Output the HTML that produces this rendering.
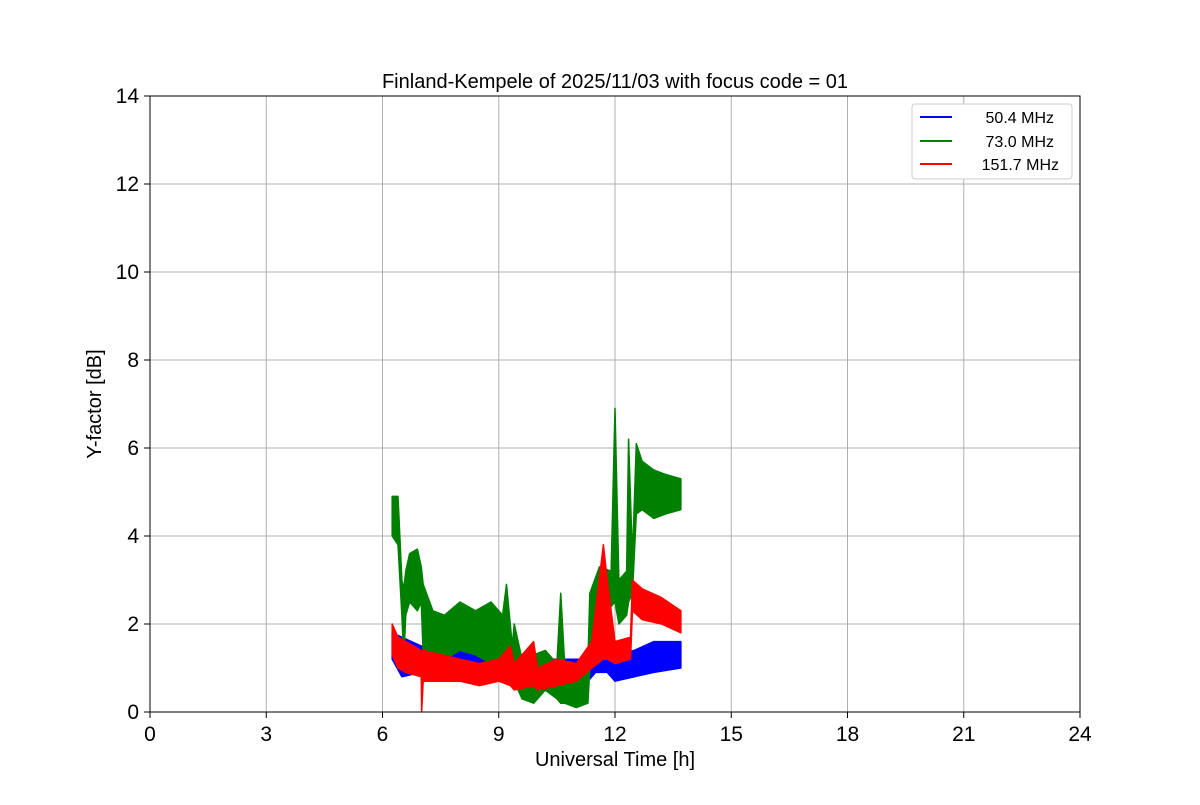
<!DOCTYPE html>
<html><head><meta charset="utf-8"><style>
body{margin:0;background:#fff;font-family:"Liberation Sans","DejaVu Sans",sans-serif}
</style></head><body>
<svg id="chart" width="1200" height="800" xmlns="http://www.w3.org/2000/svg" font-family="Liberation Sans, DejaVu Sans, sans-serif">
<rect width="1200" height="800" fill="#fff"/>
<g id="grid"></g>
<g id="series"></g>
<rect x="150" y="96" width="930" height="616" fill="none" stroke="#000" stroke-width="1"/>
<g id="ticks"></g>
<text x="615" y="88" text-anchor="middle" font-size="20">Finland-Kempele of 2025/11/03 with focus code = 01</text>
<text x="615" y="766" text-anchor="middle" font-size="20">Universal Time [h]</text>
<text transform="translate(101,404) rotate(-90)" text-anchor="middle" font-size="20">Y-factor [dB]</text>
<g>
<rect x="912" y="104" width="160" height="75" rx="3" fill="#fff" stroke="#ccc"/>
<g><line x1="920" y1="117" x2="952" y2="117" stroke="blue" stroke-width="2"/><text x="1054" y="123" text-anchor="end" font-size="16">50.4 MHz</text></g>
<g><line x1="920" y1="141" x2="952" y2="141" stroke="green" stroke-width="2"/><text x="1054" y="147" text-anchor="end" font-size="16">73.0 MHz</text></g>
<g><line x1="920" y1="164" x2="952" y2="164" stroke="red" stroke-width="2"/><text x="1059" y="170" text-anchor="end" font-size="16">151.7 MHz</text></g>
</g>
</svg>
<script>
const xTicks=[0,3,6,9,12,15,18,21,24];
const yTicks=[0,2,4,6,8,10,12,14];
const blueT=[6.25,6.5,7.0,8.0,9.0,9.6,10.5,11.3,11.5,11.8,12.0,12.5,13.0,13.7];
const blueLo=[1.2,0.8,0.9,0.9,0.9,0.8,0.7,0.7,0.9,0.9,0.7,0.8,0.9,1.0];
const blueHi=[1.8,1.7,1.5,1.5,1.4,1.2,1.2,1.2,1.4,1.6,1.3,1.4,1.6,1.6];
const greenT=[6.25,6.4,6.5,6.55,6.6,6.7,6.9,7.0,7.05,7.3,7.6,8.0,8.4,8.8,9.1,9.2,9.35,9.4,9.6,9.9,10.2,10.5,10.6,10.7,11.0,11.3,11.35,11.6,11.9,12.0,12.1,12.3,12.35,12.45,12.55,12.7,13.0,13.3,13.7];
const greenLo=[4.0,3.8,2.2,1.2,2.2,2.5,2.3,2.5,1.3,1.3,1.2,1.4,1.3,1.1,1.0,1.0,0.6,0.7,0.3,0.2,0.5,0.3,0.2,0.2,0.1,0.2,1.0,1.6,2.4,2.5,2.0,2.2,2.5,2.7,4.5,4.6,4.4,4.5,4.6];
const greenHi=[4.9,4.9,3.0,2.8,3.2,3.6,3.7,3.3,2.9,2.3,2.2,2.5,2.3,2.5,2.2,2.9,1.5,2.0,1.2,1.3,1.4,1.1,2.7,1.1,0.9,1.1,2.7,3.3,3.2,6.9,3.0,3.2,6.2,3.5,6.1,5.7,5.5,5.4,5.3];
const redT=[6.25,6.4,6.6,7.0,7.01,7.05,8.0,8.5,9.0,9.3,9.4,9.9,10.0,10.5,11.0,11.4,11.7,11.8,12.0,12.4,12.45,12.7,13.2,13.7];
const redLo=[1.3,1.0,0.9,0.8,0.0,0.7,0.7,0.6,0.7,0.6,0.5,0.6,0.5,0.6,0.7,1.0,1.2,1.2,1.1,1.2,2.3,2.1,2.0,1.8];
const redHi=[2.0,1.7,1.6,1.4,1.3,1.4,1.2,1.1,1.2,1.5,1.1,1.6,1.0,1.2,1.1,1.6,3.8,3.0,1.6,1.7,3.0,2.8,2.6,2.3];
const NS='http://www.w3.org/2000/svg';
const xs=h=>150+h*930/24, ys=v=>712-v*616/14;
const grid=document.getElementById('grid'),ticks=document.getElementById('ticks'),ser=document.getElementById('series');
function mk(tag,attrs,parent){const e=document.createElementNS(NS,tag);for(const k in attrs)e.setAttribute(k,attrs[k]);parent.appendChild(e);return e;}
xTicks.forEach(t=>{
  const g=mk('line',{x1:xs(t),x2:xs(t),y1:96,y2:712,stroke:'#b0b0b0','stroke-width':1},grid);
  
  
  mk('line',{x1:xs(t),x2:xs(t),y1:712,y2:718,stroke:'#000'},ticks);
  const l=mk('text',{x:xs(t),y:741,'text-anchor':'middle','font-size':21},ticks);l.textContent=t;
  
  
});
yTicks.forEach(t=>{
  const g=mk('line',{x1:150,x2:1080,y1:ys(t),y2:ys(t),stroke:'#b0b0b0','stroke-width':1},grid);
  
  
  mk('line',{x1:144,x2:150,y1:ys(t),y2:ys(t),stroke:'#000'},ticks);
  const l=mk('text',{x:139,y:ys(t)+7,'text-anchor':'end','font-size':21},ticks);l.textContent=t;
  
  
});
function band(T,lo,hi,color,name){
  let pts=T.map((t,i)=>xs(t)+','+ys(hi[i]));
  for(let i=T.length-1;i>=0;i--)pts.push(xs(T[i])+','+ys(lo[i]));
  const p=mk('polygon',{points:pts.join(' '),fill:color,stroke:color,'stroke-width':1.5,'stroke-linejoin':'round'},ser);
  
  
}
band(blueT,blueLo,blueHi,'blue','series-50mhz');
band(greenT,greenLo,greenHi,'green','series-73mhz');
band(redT,redLo,redHi,'red','series-151mhz');
</script>
</body></html>
